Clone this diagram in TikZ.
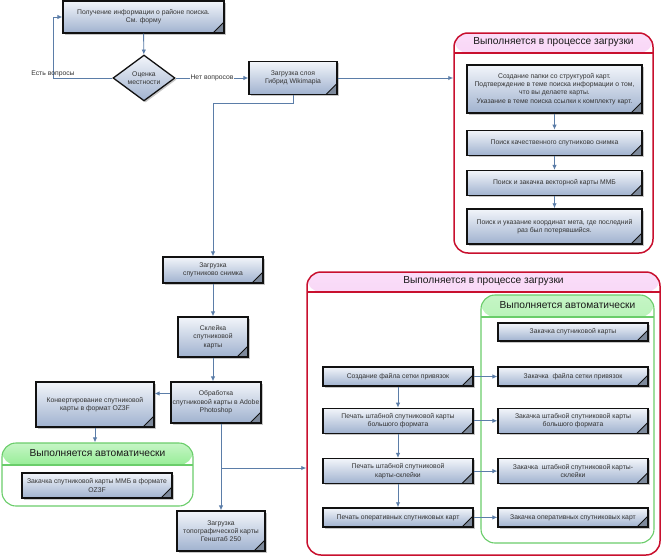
\documentclass[tikz,border=0pt]{standalone}
\usepackage{fontspec}
\setmainfont{Liberation Sans}
\usetikzlibrary{arrows.meta,positioning,shapes.geometric,shadows,backgrounds,calc}
\definecolor{BoxTop}{HTML}{F2F5FA}
\definecolor{BoxBot}{HTML}{A0B2CF}
\definecolor{BoxBord}{HTML}{111111}
\definecolor{CrnFill}{HTML}{7E8A9C}
\definecolor{FlowMain}{HTML}{5B7DA8}
\definecolor{TxtSoft}{HTML}{333333}
\definecolor{RedBord}{HTML}{C8102E}
\definecolor{RedHead}{HTML}{EE8FE8}
\definecolor{GrnBord}{HTML}{6ACD6A}
\definecolor{GrnHead}{HTML}{40DE40}
\tikzset{
  every picture/.append style={font=\fontsize{6.8}{8.3}\selectfont, >=Latex},
  blk/.style={rectangle, draw=BoxBord, line width=1.3pt, top color=BoxTop, bottom color=BoxBot,
              align=center, inner sep=1pt, text=TxtSoft,
              drop shadow={shadow xshift=1.6pt, shadow yshift=-1.6pt, opacity=0.22, fill=black},
              path picture={
                \fill[CrnFill] (path picture bounding box.south east) -- ++(-11pt,0pt) -- ++(11pt,11pt) -- cycle;
                \draw[line width=0.9pt] ([xshift=-11pt]path picture bounding box.south east)
                  -- ([yshift=11pt]path picture bounding box.south east);}},
  dia/.style={diamond, draw=BoxBord, line width=1.3pt, top color=BoxTop, bottom color=BoxBot,
              align=center, inner sep=0pt, text=TxtSoft,
              drop shadow={shadow xshift=1.6pt, shadow yshift=-1.6pt, opacity=0.22, fill=black}},
  flow/.style={-{Latex[length=5pt,width=4.5pt]}, line width=0.9pt, draw=FlowMain},
  lbl/.style={text=TxtSoft, inner sep=1pt},
  grp/.style n args={3}{rectangle, rounded corners=14pt, draw=#1, line width=1.5pt, fill=white,
              path picture={
                \shade[top color=#2!30, bottom color=#2] (path picture bounding box.north west)
                  rectangle ([yshift=-#3]path picture bounding box.north east);
                \draw[#1, line width=1.1pt] ([yshift=-#3]path picture bounding box.north west)
                  -- ([yshift=-#3]path picture bounding box.north east);}},
  gttl/.style={font=\fontsize{10.2}{12}\selectfont, text=black!90},
}

\begin{document}
\begin{tikzpicture}[x=1pt, y=-1pt,
  wbox/.style={blk, minimum width=175pt},
  rbox/.style={blk, minimum width=150pt},
]
\useasboundingbox (0,0) rectangle (662,557);

% column centres: right group boxes and the two columns inside the lower group
\def\cR{554.5}\def\cL{398}\def\cA{573}
\coordinate (xR) at (\cR,0); \coordinate (xL) at (\cL,0); \coordinate (xA) at (\cA,0);

% ======================= group backdrops ============================================
\node[grp={RedBord}{RedHead}{20pt}, minimum width=199pt, minimum height=220pt] (GR1) at (553.5,143) {};
\node[grp={RedBord}{RedHead}{20pt}, minimum width=353pt, minimum height=283pt] (GR2) at (483.5,413.5) {};
\node[grp={GrnBord}{GrnHead}{22pt}, minimum width=173pt, minimum height=248pt, line width=1.1pt] (GG2) at (567.5,419) {};
\node[grp={GrnBord}{GrnHead}{22pt}, minimum width=191pt, minimum height=63pt, line width=1.1pt] (GG1) at (97.5,474.5) {};
\node[gttl] (tR1) at ([yshift=-10pt]GR1.north) {Выполняется в процессе загрузки};
\node[gttl] (tR2) at ([yshift=-10pt]GR2.north) {Выполняется в процессе загрузки};
\node[gttl] (tG2) at ([yshift=-11pt]GG2.north) {Выполняется автоматически};
\node[gttl] (tG1) at ([yshift=-11pt]GG1.north) {Выполняется автоматически};

% ======================= top: search area and evaluation ============================
\node[blk, minimum width=161pt, minimum height=32pt] (info) at (143.5,17)
  {Получение информации о районе поиска.\\См. форму};
\node[dia, minimum width=62pt, minimum height=40pt] (eval) at (144,78) {Оценка\\местности};
\node[blk, minimum width=88pt, minimum height=33pt] (wiki) at (293,78)
  {Загрузка слоя\\Гибрид Wikimapia};
\coordinate (kQ) at (53,78);

% ======================= upper group: preparation ===================================
\node[wbox, minimum height=48pt] (a1) at (\cR,89)
  {Создание папки со структурой карт.\\Подтверждение в теме поиска информации о том,\\что вы делаете карты.\\Указание в теме поиска ссылки к комплекту карт.};
\node[wbox, minimum height=25pt, below=16pt of a1] (a2) {Поиск качественного спутниково снимка};
\node[wbox, minimum height=25pt, below=14pt of a2] (a3) {Поиск и закачка векторной карты ММБ};
\node[wbox, minimum height=35pt, below=12pt of a3] (a4)
  {Поиск и указание координат мета, где последний\\раз был потерявшийся.};

% ======================= middle column: satellite image =============================
\node[blk, minimum width=100pt, minimum height=26pt] (sat) at (213,270) {Загрузка\\спутниково снимка};
\node[blk, minimum width=70pt, minimum height=40pt] (glue) at (213,337) {Склейка\\спутниковой\\карты};
\node[blk, minimum width=90pt, minimum height=41pt] (proc) at (216,402.5)
  {Обработка\\спутниковой карты в Adobe\\Photoshop};
\node[blk, minimum width=118pt, minimum height=45pt] (conv) at (95,404.5)
  {Конвертирование спутниковой\\карты в формат OZ3F};
\node[blk, minimum width=150pt, minimum height=25pt] (ozf) at (97,485.5)
  {Закачка спутниковой карты ММБ в формате\\OZ3F};
\node[blk, minimum width=88pt, minimum height=40pt] (topo) at (221,531)
  {Загрузка\\топографической карты\\Генштаб 250};
\coordinate (kB) at (0,468);

% ======================= lower group: printing and uploads ==========================
\node[rbox, minimum height=19pt] (l1) at (\cL,376.5) {Создание файла сетки привязок};
\node[rbox, minimum height=25pt, below=21pt of l1] (l2) {Печать штабной спутниковой карты\\большого формата};
\node[rbox, minimum height=25pt, below=24pt of l2] (l3) {Печать штабной спутниковой\\карты-склейки};
\node[rbox, minimum height=19pt, below=23pt of l3] (l4) {Печать оперативных спутниковых карт};

\node[rbox, minimum height=18pt] (r1) at (\cA,332) {Закачка спутниковой карты};
\node[rbox, minimum height=19pt] (r2) at (xA |- l1) {Закачка\ \ файла сетки привязок};
\node[rbox, minimum height=25pt] (r3) at (xA |- l2) {Закачка штабной спутниковой карты\\большого формата};
\node[rbox, minimum height=25pt] (r4) at (xA |- l3) {Закачка\ \ штабной спутниковой карты-\\склейки};
\node[rbox, minimum height=19pt] (r5) at (xA |- l4) {Закачка оперативных спутниковых карт};

% ======================= arrows =====================================================
\draw[flow] (info) -- (eval);
\draw[flow] (eval) -- node[lbl, fill=white] {Нет вопросов} (wiki);
\draw[flow] (eval.west) -- (kQ) |- (info.west);
\node[lbl, above=0pt of kQ] (yes) {Есть вопросы};
\draw[flow] (wiki.east) -- (wiki.east -| GR1.west);
% preparation steps, top to bottom
\draw[flow] (a1) -- (a2); \draw[flow] (a2) -- (a3); \draw[flow] (a3) -- (a4);
% satellite image chain
\draw[flow] (wiki.south) -- ++(0,8) -| (sat.north);
\draw[flow] (sat) -- (glue);
\draw[flow] (glue.south) -- (glue.south |- proc.north);
\draw[flow] ([yshift=9pt]proc.west) -- ([yshift=9pt]proc.west -| conv.east);
\draw[flow] (conv.south) -- (conv.south |- GG1.north);
\draw[flow] (topo.north |- proc.south) -- (topo.north);
\draw[flow] (topo.north |- kB) -- (GR2.west |- kB);
% printing, top to bottom, and the automatic uploads
\draw[flow] (l1) -- (l2); \draw[flow] (l2) -- (l3); \draw[flow] (l3) -- (l4);
\draw[flow] (l1) -- (r2); \draw[flow] (l2) -- (r3);
\draw[flow] (l3) -- (r4); \draw[flow] (l4) -- (r5);

\end{tikzpicture}
\end{document}
